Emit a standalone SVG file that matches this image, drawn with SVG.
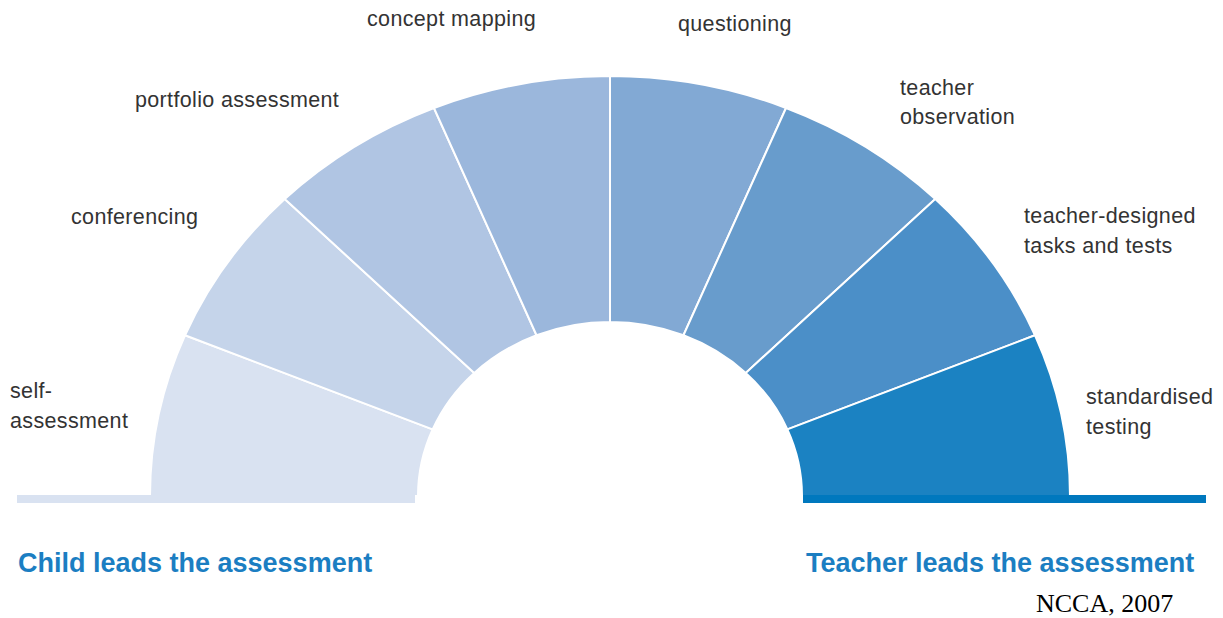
<svg xmlns="http://www.w3.org/2000/svg" width="1223" height="618" viewBox="0 0 1223 618">
<style>
.seg{stroke:#ffffff;stroke-width:2;stroke-linejoin:round}
.lbl{font-family:"Liberation Sans",Arial,sans-serif;font-size:21.5px;letter-spacing:0.35px;fill:#333333}
.head{font-family:"Liberation Sans",Arial,sans-serif;font-size:27px;font-weight:bold;fill:#1B7EC2}
.src{font-family:"Liberation Serif","Times New Roman",serif;font-size:26px;fill:#000000}
</style>
<rect width="1223" height="618" fill="#ffffff"/>
<g id="seg1"><path class="seg" fill="#D9E2F1" d="M150,496 A460,420 0 0 1 185.02,335.27 L432.62,429.41 A192,174 0 0 0 418,496 Z"/></g>
<g id="seg2"><path class="seg" fill="#C5D4EA" d="M185.02,335.27 A460,420 0 0 1 284.73,199.01 L474.24,372.96 A192,174 0 0 0 432.62,429.41 Z"/></g>
<g id="seg3"><path class="seg" fill="#B0C5E3" d="M284.73,199.01 A460,420 0 0 1 433.97,107.97 L536.53,335.24 A192,174 0 0 0 474.24,372.96 Z"/></g>
<g id="seg4"><path class="seg" fill="#9BB7DC" d="M433.97,107.97 A460,420 0 0 1 610,76 L610,322 A192,174 0 0 0 536.53,335.24 Z"/></g>
<g id="seg5"><path class="seg" fill="#82A9D4" d="M610,76 A460,420 0 0 1 786.03,107.97 L683.47,335.24 A192,174 0 0 0 610,322 Z"/></g>
<g id="seg6"><path class="seg" fill="#689CCC" d="M786.03,107.97 A460,420 0 0 1 935.27,199.01 L745.76,372.96 A192,174 0 0 0 683.47,335.24 Z"/></g>
<g id="seg7"><path class="seg" fill="#4B8FC8" d="M935.27,199.01 A460,420 0 0 1 1034.98,335.27 L787.38,429.41 A192,174 0 0 0 745.76,372.96 Z"/></g>
<g id="seg8"><path class="seg" fill="#1B82C2" d="M1034.98,335.27 A460,420 0 0 1 1070,496 L802,496 A192,174 0 0 0 787.38,429.41 Z"/></g>
<g id="bars">
<rect x="17" y="495" width="398" height="8" fill="#D9E2F1"/>
<rect x="803" y="495" width="403" height="8" fill="#0078BE"/>
</g>
<g id="labels">
<text class="lbl" x="10" y="398">self-</text>
<text class="lbl" x="10" y="428">assessment</text>
<text class="lbl" x="71" y="224">conferencing</text>
<text class="lbl" x="135" y="107">portfolio assessment</text>
<text class="lbl" x="367" y="26">concept mapping</text>
<text class="lbl" x="678" y="31">questioning</text>
<text class="lbl" x="900" y="95">teacher</text>
<text class="lbl" x="900" y="124">observation</text>
<text class="lbl" x="1024" y="223">teacher-designed</text>
<text class="lbl" x="1024" y="253">tasks and tests</text>
<text class="lbl" x="1086" y="404">standardised</text>
<text class="lbl" x="1086" y="434">testing</text>
</g>
<g id="headings">
<text class="head" x="18" y="572">Child leads the assessment</text>
<text class="head" x="806" y="572">Teacher leads the assessment</text>
</g>
<text class="src" x="1036" y="612">NCCA, 2007</text>
</svg>
